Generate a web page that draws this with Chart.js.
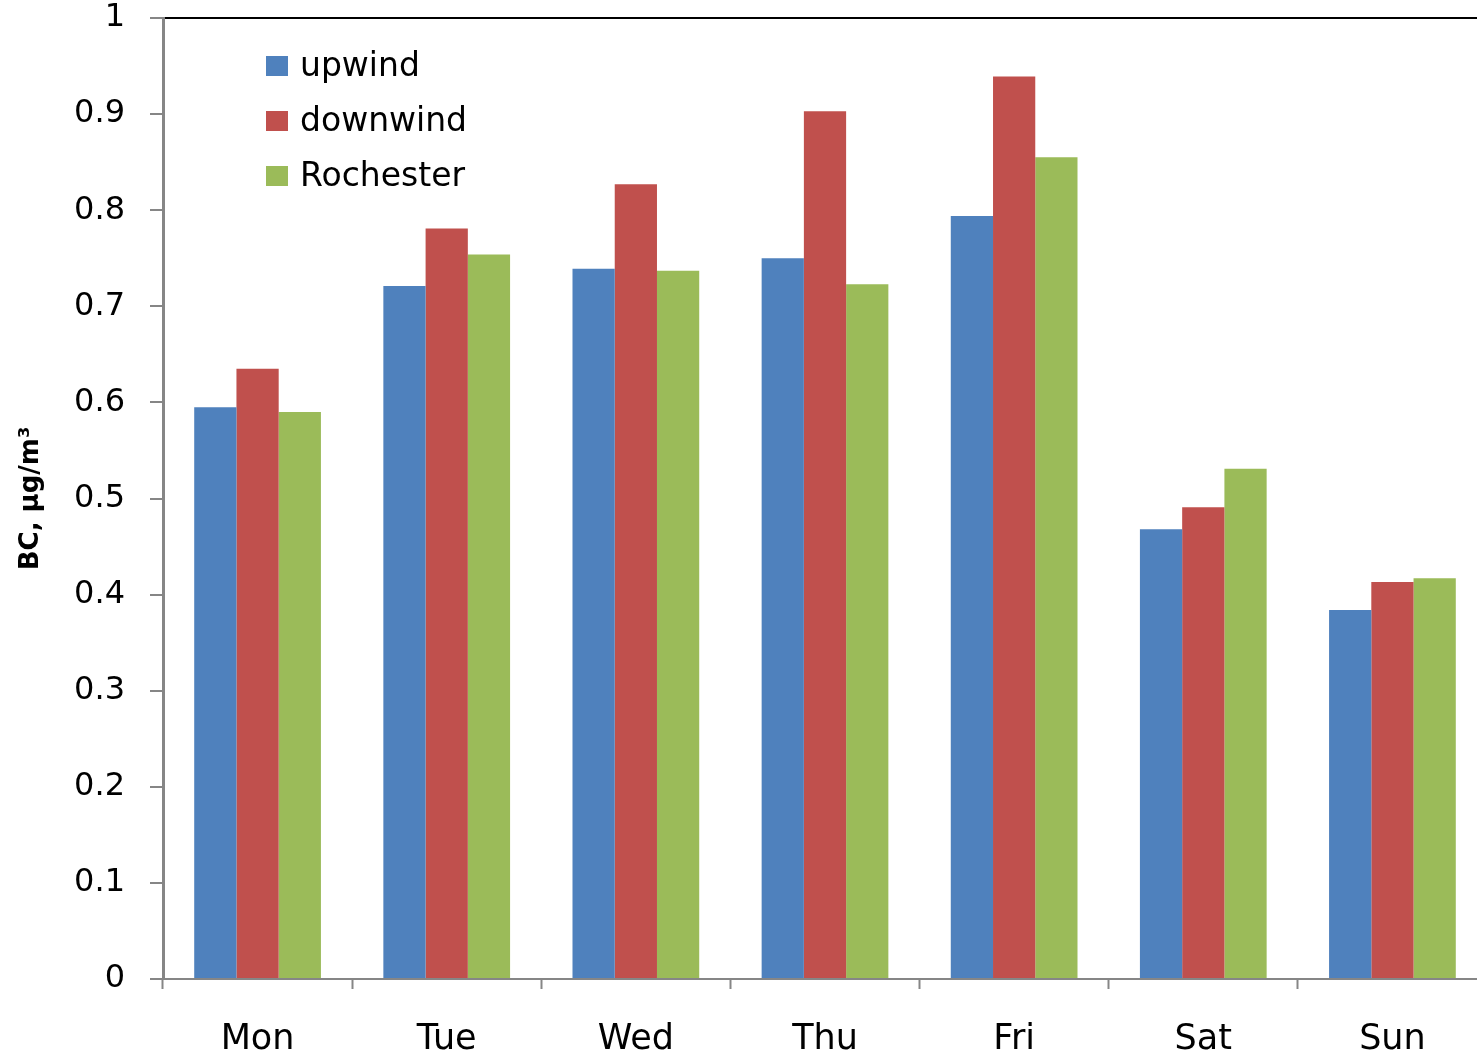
<!DOCTYPE html>
<html>
<head>
<meta charset="utf-8">
<script src="https://cdn.jsdelivr.net/npm/chart.js@4.4.1/dist/chart.umd.min.js"></script>
<style>
html,body{margin:0;padding:0;background:#fff;overflow:hidden;width:1477px;height:1052px;}
canvas{display:block;}
</style>
</head>
<body>
<canvas id="c" width="1487" height="1052"></canvas>
<script>
const categories = ["Mon","Tue","Wed","Thu","Fri","Sat","Sun"];
const upwind     = [0.595, 0.721, 0.739, 0.750, 0.794, 0.468, 0.384];
const downwind   = [0.635, 0.781, 0.827, 0.903, 0.939, 0.491, 0.413];
const rochester  = [0.590, 0.754, 0.737, 0.723, 0.855, 0.531, 0.417];
const seriesNames = ["upwind","downwind","Rochester"];
const seriesColors = ["#4F81BD","#C0504D","#9BBB59"];
const yTitle = "BC, \u00B5g/m\u00B3";

const FONT = "'DejaVu Sans', 'Noto Sans', sans-serif";

const legendPlugin = {
  id: 'innerLegend',
  afterDraw(chart) {
    const ctx = chart.ctx;
    const a = chart.chartArea;
    ctx.save();
    ctx.font = "33px " + FONT;
    ctx.textBaseline = "middle";
    chart.data.datasets.forEach((ds, i) => {
      const cy = a.top + 48 + i * 55;
      ctx.fillStyle = ds.backgroundColor;
      ctx.fillRect(a.left + 103, cy - 10, 22, 20);
      ctx.fillStyle = "#000";
      ctx.fillText(ds.label, a.left + 137, cy + 1);
    });
    ctx.restore();
  }
};

new Chart(document.getElementById('c'), {
  type: 'bar',
  data: {
    labels: categories,
    datasets: [
      {label: seriesNames[0], data: upwind,    backgroundColor: seriesColors[0]},
      {label: seriesNames[1], data: downwind,  backgroundColor: seriesColors[1]},
      {label: seriesNames[2], data: rochester, backgroundColor: seriesColors[2]}
    ]
  },
  options: {
    responsive: false,
    animation: false,
    layout: {padding: {top: 0, right: 0, left: 0, bottom: 0}},
    datasets: {bar: {categoryPercentage: 0.67, barPercentage: 1.0, borderWidth: 0}},
    plugins: {legend: {display: false}, tooltip: {enabled: false}},
    scales: {
      x: {
        offset: true,
        grid: {offset: true, drawOnChartArea: false, drawTicks: true, tickLength: 10, color: "#868686", tickWidth: 2},
        border: {color: "#868686", width: 2},
        ticks: {color: "#000", font: {family: FONT, size: 35}, padding: 30},
        afterFit(s) { s.height = 73; s.paddingLeft = 0; s.paddingRight = 0; }
      },
      y: {
        min: 0, max: 1,
        ticks: {
          stepSize: 0.1,
          color: "#000",
          font: {family: FONT, size: 32},
          padding: 25,
          callback: v => String(parseFloat(v.toFixed(1)))
        },
        grid: {
          drawOnChartArea: true,
          drawTicks: true,
          tickLength: 13,
          color: ctx => (ctx.tick && Math.abs(ctx.tick.value - 1) < 1e-9) ? "#000" : "rgba(0,0,0,0)",
          lineWidth: 2,
          tickColor: "#868686",
          tickWidth: 2
        },
        border: {color: "#868686", width: 3},
        title: {
          display: true,
          text: yTitle,
          color: "#000",
          font: {family: FONT, size: 26, weight: "bold"},
          padding: {top: 16, bottom: 0}
        },
        afterFit(s) { s.width = 163; s.paddingTop = 18; s.paddingBottom = 0; }
      }
    }
  },
  plugins: [legendPlugin]
});
</script>
</body>
</html>
